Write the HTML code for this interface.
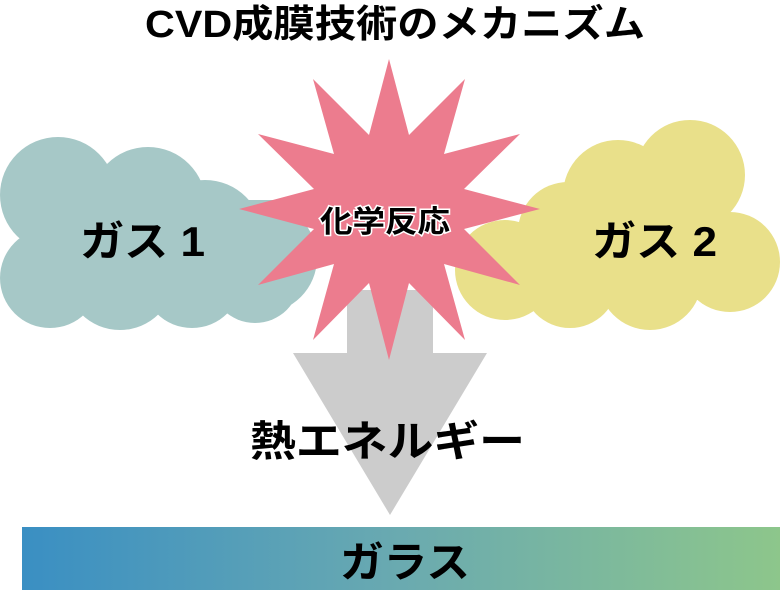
<!DOCTYPE html>
<html><head><meta charset="utf-8"><style>
body{margin:0;background:#fff;width:780px;height:596px;overflow:hidden}
svg text{font-family:"Liberation Sans","Noto Sans CJK JP",sans-serif;font-weight:bold}
</style></head><body>
<svg width="780" height="596" viewBox="0 0 780 596">
<defs><linearGradient id="g" x1="0" x2="1"><stop offset="0" stop-color="#3a8fc3"/><stop offset="0.5" stop-color="#6aaab0"/><stop offset="1" stop-color="#8dc68b"/></linearGradient></defs>
<text x="145" y="37" font-size="38" textLength="500" lengthAdjust="spacingAndGlyphs">CVD成膜技術のメカニズム</text>
<g fill="#a6c8c7">
<circle cx="58" cy="195" r="58"/><circle cx="148" cy="205" r="58"/><circle cx="205" cy="238" r="58"/><circle cx="262" cy="258" r="55"/>
<circle cx="50" cy="278" r="50"/><circle cx="120" cy="275" r="55"/><circle cx="192" cy="278" r="50"/><circle cx="255" cy="278" r="45"/>
<rect x="30" y="200" width="270" height="90"/>
</g>
<g fill="#e9e08a">
<circle cx="690" cy="175" r="55"/><circle cx="618" cy="195" r="55"/><circle cx="568" cy="232" r="50"/><circle cx="505" cy="270" r="50"/>
<circle cx="730" cy="262" r="50"/><circle cx="650" cy="278" r="52"/><circle cx="570" cy="280" r="48"/>
<rect x="520" y="220" width="220" height="80"/>
</g>
<polygon fill="#cccccc" points="347,290 433,290 433,353 487,353 390,515 293,353 347,353"/>
<polygon fill="#ec7c8e" points="389,59 409,135 465,79 444,154 520,134 464,189 540,209 464,229 520,285 444,264 465,340 409,283 389,360 369,283 313,340 334,264 258,285 314,229 239,209 314,189 258,134 334,154 313,79 369,135"/>
<text x="320" y="232" font-size="30" textLength="130" lengthAdjust="spacingAndGlyphs" stroke="#fff" stroke-width="3" paint-order="stroke">化学反応</text>
<text x="80" y="256" font-size="42" textLength="125" lengthAdjust="spacingAndGlyphs">ガス 1</text>
<text x="592" y="256" font-size="42" textLength="125" lengthAdjust="spacingAndGlyphs">ガス 2</text>
<text x="250" y="456" font-size="42" textLength="275" lengthAdjust="spacingAndGlyphs">熱エネルギー</text>
<rect x="22" y="527" width="758" height="63" fill="url(#g)"/>
<text x="340" y="577" font-size="42" textLength="130" lengthAdjust="spacingAndGlyphs">ガラス</text>
</svg>
</body></html>
